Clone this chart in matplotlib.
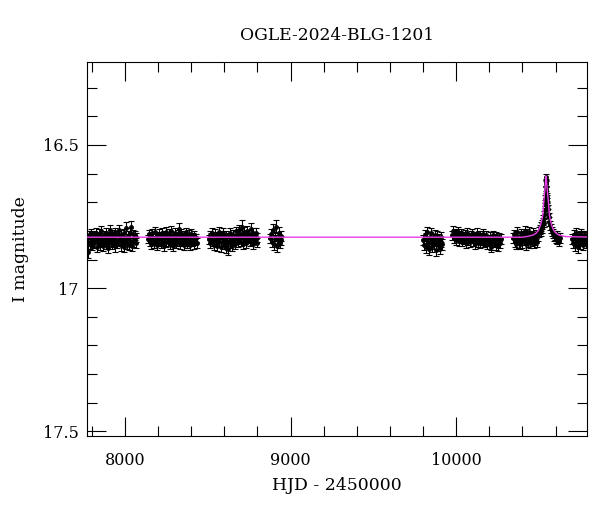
import matplotlib
matplotlib.use("Agg")
import matplotlib.pyplot as plt
from matplotlib import ticker

# OGLE light curve, (HJD-2450000, I mag, error) per observing season
season1 = [
    (7776, 16.872, 0.022), (7780, 16.838, 0.016), (7785, 16.815, 0.015), (7789, 16.846, 0.018), (7794, 16.826, 0.014),
    (7798, 16.809, 0.016), (7803, 16.851, 0.017), (7807, 16.832, 0.015), (7812, 16.818, 0.014), (7816, 16.843, 0.016),
    (7821, 16.827, 0.015), (7825, 16.806, 0.017), (7830, 16.856, 0.019), (7834, 16.822, 0.014), (7839, 16.836, 0.015),
    (7843, 16.811, 0.016), (7848, 16.848, 0.017), (7852, 16.829, 0.014), (7857, 16.801, 0.018), (7861, 16.840, 0.015),
    (7866, 16.824, 0.016), (7870, 16.853, 0.018), (7875, 16.814, 0.015), (7879, 16.833, 0.014), (7884, 16.806, 0.016),
    (7888, 16.845, 0.017), (7893, 16.827, 0.015), (7897, 16.858, 0.019), (7902, 16.817, 0.014), (7906, 16.837, 0.016),
    (7911, 16.798, 0.019), (7915, 16.829, 0.015), (7920, 16.847, 0.017), (7924, 16.812, 0.015), (7929, 16.839, 0.016),
    (7933, 16.822, 0.014), (7938, 16.854, 0.018), (7942, 16.805, 0.016), (7947, 16.831, 0.015), (7951, 16.844, 0.017),
    (7956, 16.816, 0.015), (7960, 16.835, 0.016), (7965, 16.797, 0.018), (7969, 16.826, 0.014), (7974, 16.850, 0.019),
    (7978, 16.813, 0.015), (7983, 16.838, 0.016), (7987, 16.821, 0.014), (7992, 16.856, 0.018), (7996, 16.808, 0.016),
    (8001, 16.832, 0.015), (8005, 16.790, 0.020), (8010, 16.845, 0.017), (8014, 16.825, 0.014), (8019, 16.817, 0.015),
    (8023, 16.849, 0.018), (8028, 16.806, 0.016), (8032, 16.836, 0.015), (8037, 16.785, 0.021), (8041, 16.852, 0.018),
    (8046, 16.811, 0.015), (8050, 16.839, 0.016), (8055, 16.827, 0.014), (8059, 16.815, 0.016), (8064, 16.842, 0.017),
    (8068, 16.823, 0.015),
]
season2 = [
    (8139, 16.828, 0.015), (8144, 16.812, 0.016), (8149, 16.839, 0.015), (8153, 16.820, 0.014), (8158, 16.846, 0.017),
    (8163, 16.808, 0.016), (8167, 16.831, 0.014), (8172, 16.824, 0.015), (8177, 16.843, 0.016), (8181, 16.803, 0.017),
    (8186, 16.835, 0.015), (8191, 16.817, 0.014), (8195, 16.849, 0.017), (8200, 16.826, 0.015), (8205, 16.810, 0.016),
    (8209, 16.838, 0.015), (8214, 16.821, 0.014), (8219, 16.844, 0.017), (8223, 16.806, 0.016), (8228, 16.833, 0.015),
    (8233, 16.815, 0.014), (8237, 16.851, 0.018), (8242, 16.827, 0.015), (8247, 16.804, 0.016), (8251, 16.840, 0.016),
    (8256, 16.822, 0.014), (8261, 16.836, 0.015), (8265, 16.811, 0.016), (8270, 16.847, 0.017), (8275, 16.825, 0.014),
    (8279, 16.801, 0.017), (8284, 16.834, 0.015), (8289, 16.818, 0.014), (8293, 16.853, 0.018), (8298, 16.829, 0.015),
    (8303, 16.807, 0.016), (8307, 16.842, 0.016), (8312, 16.823, 0.014), (8317, 16.837, 0.015), (8321, 16.812, 0.016),
    (8326, 16.792, 0.020), (8331, 16.846, 0.017), (8335, 16.826, 0.014), (8340, 16.809, 0.016), (8345, 16.838, 0.015),
    (8349, 16.820, 0.014), (8354, 16.850, 0.018), (8359, 16.815, 0.015), (8363, 16.832, 0.015), (8368, 16.805, 0.016),
    (8373, 16.843, 0.017), (8377, 16.824, 0.014), (8382, 16.836, 0.015), (8387, 16.813, 0.016), (8391, 16.848, 0.017),
    (8396, 16.827, 0.015), (8401, 16.810, 0.016), (8405, 16.839, 0.015), (8410, 16.821, 0.014), (8415, 16.845, 0.017),
    (8419, 16.816, 0.015), (8424, 16.834, 0.016), (8429, 16.825, 0.015), (8433, 16.842, 0.017),
]
season3 = [
    (8506, 16.830, 0.015), (8511, 16.815, 0.016), (8515, 16.842, 0.016), (8520, 16.822, 0.014), (8525, 16.808, 0.017),
    (8529, 16.836, 0.015), (8534, 16.826, 0.014), (8539, 16.848, 0.017), (8543, 16.811, 0.016), (8548, 16.833, 0.015),
    (8553, 16.819, 0.014), (8557, 16.852, 0.018), (8562, 16.828, 0.015), (8567, 16.803, 0.017), (8571, 16.840, 0.016),
    (8576, 16.823, 0.014), (8581, 16.855, 0.018), (8585, 16.814, 0.015), (8590, 16.835, 0.016), (8595, 16.807, 0.016),
    (8599, 16.846, 0.017), (8604, 16.825, 0.014), (8609, 16.858, 0.019), (8613, 16.817, 0.015), (8618, 16.838, 0.015),
    (8622, 16.862, 0.022), (8627, 16.820, 0.014), (8632, 16.843, 0.017), (8636, 16.806, 0.016), (8641, 16.831, 0.015),
    (8646, 16.851, 0.018), (8650, 16.813, 0.015), (8655, 16.836, 0.016), (8660, 16.824, 0.014), (8664, 16.845, 0.017),
    (8669, 16.802, 0.017), (8674, 16.829, 0.015), (8678, 16.816, 0.014), (8683, 16.840, 0.016), (8688, 16.798, 0.018),
    (8692, 16.826, 0.015), (8697, 16.810, 0.016), (8702, 16.838, 0.016), (8706, 16.785, 0.022), (8711, 16.821, 0.014),
    (8716, 16.846, 0.017), (8720, 16.804, 0.016), (8725, 16.832, 0.015), (8730, 16.815, 0.014), (8734, 16.843, 0.017),
    (8739, 16.800, 0.018), (8744, 16.827, 0.015), (8748, 16.812, 0.016), (8753, 16.837, 0.015), (8758, 16.822, 0.014),
    (8762, 16.792, 0.021), (8767, 16.834, 0.016), (8772, 16.808, 0.017), (8776, 16.845, 0.017), (8781, 16.819, 0.015),
    (8786, 16.830, 0.015), (8790, 16.806, 0.017), (8795, 16.841, 0.016), (8800, 16.824, 0.015),
]
season4 = [
    (8874, 16.826, 0.016), (8880, 16.812, 0.017), (8886, 16.839, 0.018), (8892, 16.796, 0.019), (8898, 16.847, 0.020),
    (8904, 16.820, 0.016), (8910, 16.785, 0.022), (8916, 16.852, 0.020), (8922, 16.830, 0.017), (8928, 16.806, 0.018),
    (8934, 16.843, 0.018), (8940, 16.818, 0.017), (8945, 16.833, 0.016),
]
season5 = [
    (9801, 16.832, 0.018), (9806, 16.848, 0.019), (9811, 16.815, 0.018), (9816, 16.857, 0.020), (9821, 16.826, 0.017),
    (9826, 16.805, 0.019), (9831, 16.841, 0.018), (9836, 16.862, 0.021), (9841, 16.820, 0.017), (9846, 16.836, 0.018),
    (9851, 16.809, 0.019), (9856, 16.853, 0.020), (9861, 16.829, 0.017), (9866, 16.845, 0.019), (9871, 16.814, 0.018),
    (9876, 16.866, 0.021), (9881, 16.834, 0.018), (9886, 16.818, 0.018), (9891, 16.850, 0.019), (9896, 16.827, 0.017),
    (9901, 16.860, 0.021), (9906, 16.839, 0.018), (9911, 16.822, 0.018), (9915, 16.847, 0.019),
]
season6 = [
    (9977, 16.815, 0.016), (9982, 16.800, 0.017), (9987, 16.826, 0.015), (9992, 16.808, 0.016), (9997, 16.832, 0.016),
    (10002, 16.812, 0.015), (10007, 16.821, 0.014), (10012, 16.804, 0.017), (10017, 16.836, 0.016), (10022, 16.817, 0.015),
    (10027, 16.828, 0.014), (10032, 16.809, 0.016), (10037, 16.838, 0.016), (10042, 16.819, 0.015), (10047, 16.830, 0.014),
    (10052, 16.813, 0.016), (10057, 16.842, 0.017), (10062, 16.824, 0.015), (10067, 16.807, 0.017), (10072, 16.833, 0.015),
    (10077, 16.820, 0.014), (10082, 16.840, 0.016), (10087, 16.816, 0.015), (10092, 16.829, 0.014), (10097, 16.811, 0.016),
    (10102, 16.837, 0.016), (10107, 16.823, 0.014), (10112, 16.845, 0.017), (10117, 16.818, 0.015), (10122, 16.831, 0.015),
    (10127, 16.806, 0.017), (10132, 16.839, 0.016), (10137, 16.825, 0.014), (10142, 16.814, 0.015), (10147, 16.843, 0.017),
    (10152, 16.822, 0.015), (10157, 16.834, 0.015), (10162, 16.810, 0.016), (10167, 16.841, 0.016), (10172, 16.827, 0.014),
    (10177, 16.836, 0.015), (10182, 16.816, 0.015), (10187, 16.846, 0.017), (10192, 16.829, 0.015), (10197, 16.838, 0.016),
    (10202, 16.820, 0.015), (10208, 16.856, 0.018), (10213, 16.848, 0.018), (10218, 16.833, 0.016), (10223, 16.815, 0.016),
    (10228, 16.840, 0.016), (10233, 16.826, 0.015), (10238, 16.848, 0.018), (10243, 16.819, 0.015), (10248, 16.834, 0.016),
    (10253, 16.852, 0.018), (10258, 16.822, 0.015), (10263, 16.843, 0.017), (10268, 16.828, 0.016),
]
season7 = [
    (10344, 16.826, 0.017), (10349, 16.812, 0.016), (10354, 16.838, 0.018), (10359, 16.818, 0.016), (10364, 16.845, 0.018),
    (10369, 16.805, 0.017), (10374, 16.830, 0.016), (10379, 16.840, 0.018), (10384, 16.846, 0.018), (10389, 16.822, 0.016),
    (10394, 16.809, 0.017), (10399, 16.840, 0.018), (10404, 16.815, 0.016), (10409, 16.833, 0.017), (10414, 16.801, 0.018),
    (10419, 16.847, 0.018), (10424, 16.824, 0.016), (10429, 16.811, 0.017), (10434, 16.839, 0.018), (10439, 16.803, 0.018),
    (10444, 16.828, 0.016), (10449, 16.843, 0.018), (10454, 16.816, 0.016), (10459, 16.835, 0.017), (10464, 16.808, 0.017),
    (10469, 16.843, 0.018), (10474, 16.821, 0.016), (10479, 16.832, 0.017), (10484, 16.812, 0.016), (10489, 16.838, 0.018),
    (10494, 16.818, 0.016),
    # the event
    (10500, 16.805, 0.017), (10505, 16.795, 0.016), (10510, 16.800, 0.017), (10514, 16.785, 0.016), (10518, 16.778, 0.016),
    (10521, 16.790, 0.017), (10524, 16.770, 0.015), (10527, 16.762, 0.016), (10530, 16.772, 0.016), (10533, 16.745, 0.015),
    (10535, 16.728, 0.015), (10537, 16.705, 0.014), (10539, 16.688, 0.014), (10540, 16.672, 0.013), (10541, 16.655, 0.013),
    (10542, 16.635, 0.013), (10543, 16.612, 0.012), (10544, 16.630, 0.013), (10545, 16.660, 0.013), (10546, 16.680, 0.014),
    (10547, 16.698, 0.014), (10548, 16.688, 0.014), (10550, 16.712, 0.014), (10552, 16.725, 0.015), (10555, 16.740, 0.015),
    (10558, 16.752, 0.015), (10562, 16.768, 0.016), (10566, 16.780, 0.016), (10571, 16.792, 0.017), (10577, 16.802, 0.017),
    (10583, 16.810, 0.016), (10589, 16.818, 0.017), (10595, 16.815, 0.016), (10601, 16.826, 0.017), (10607, 16.818, 0.016),
    (10612, 16.830, 0.017), (10617, 16.822, 0.016), (10622, 16.835, 0.018), (10627, 16.825, 0.017),
]
season8 = [
    (10700, 16.828, 0.017), (10705, 16.842, 0.018), (10710, 16.815, 0.017), (10715, 16.850, 0.019), (10720, 16.823, 0.016),
    (10725, 16.808, 0.018), (10730, 16.837, 0.017), (10735, 16.857, 0.019), (10740, 16.819, 0.016), (10745, 16.832, 0.017),
    (10750, 16.845, 0.018), (10755, 16.812, 0.017), (10760, 16.829, 0.016), (10765, 16.848, 0.018), (10770, 16.821, 0.017),
    (10775, 16.836, 0.017), (10780, 16.815, 0.016), (10785, 16.840, 0.018),
]

# microlensing model curve
model_hjd = [7700, 10400, 10423, 10463, 10483, 10498, 10508, 10516, 10523, 10528, 10533, 10537, 10540, 10543,
             10546, 10549, 10553, 10558, 10563, 10570, 10578, 10588, 10603, 10623, 10663, 10850]
model_mag = [16.822, 16.822, 16.820, 16.815, 16.808, 16.797, 16.782, 16.765, 16.745, 16.705, 16.675, 16.650, 16.625, 16.608,
             16.625, 16.650, 16.675, 16.705, 16.745, 16.765, 16.782, 16.797, 16.808, 16.815, 16.820, 16.822]

seasons = [season1, season2, season3, season4, season5, season6, season7, season8]

plt.rcParams['font.family'] = ['DejaVu Serif']

fig = plt.figure(figsize=(6, 5.12), dpi=100)
ax = fig.add_axes([0.145, 0.148, 0.833, 0.731])

for s in seasons:
    hjd = [p[0] for p in s]
    mag = [p[1] for p in s]
    err = [p[2] for p in s]
    ax.errorbar(hjd, mag, yerr=err, fmt='o', color='k', ms=2.5, elinewidth=0.8,
                capsize=2, capthick=0.8, zorder=2)

ax.plot(model_hjd, model_mag, color='#e83ee8', lw=1.0, zorder=3)

ax.set_xlim(7771, 10789)
ax.set_ylim(17.517, 16.21)

ax.xaxis.set_major_locator(ticker.MultipleLocator(1000))
ax.xaxis.set_minor_locator(ticker.MultipleLocator(200))
ax.yaxis.set_major_locator(ticker.MultipleLocator(0.5))
ax.yaxis.set_minor_locator(ticker.MultipleLocator(0.1))
ax.yaxis.set_major_formatter(ticker.FormatStrFormatter('%g'))

ax.tick_params(which='both', direction='in', top=True, right=True, width=0.8, labelsize=11.5)
ax.tick_params(which='major', length=14)
ax.tick_params(which='minor', length=7)
ax.tick_params(axis='x', pad=11)
ax.tick_params(axis='y', pad=6)
for sp in ax.spines.values():
    sp.set_linewidth(0.8)

ax.set_title("OGLE-2024-BLG-1201", fontsize=12.3, pad=16)
ax.set_xlabel("HJD - 2450000", fontsize=12.4, labelpad=6)
ax.set_ylabel("I magnitude", fontsize=12.4, labelpad=10)

fig.savefig("out.png", dpi=100)
